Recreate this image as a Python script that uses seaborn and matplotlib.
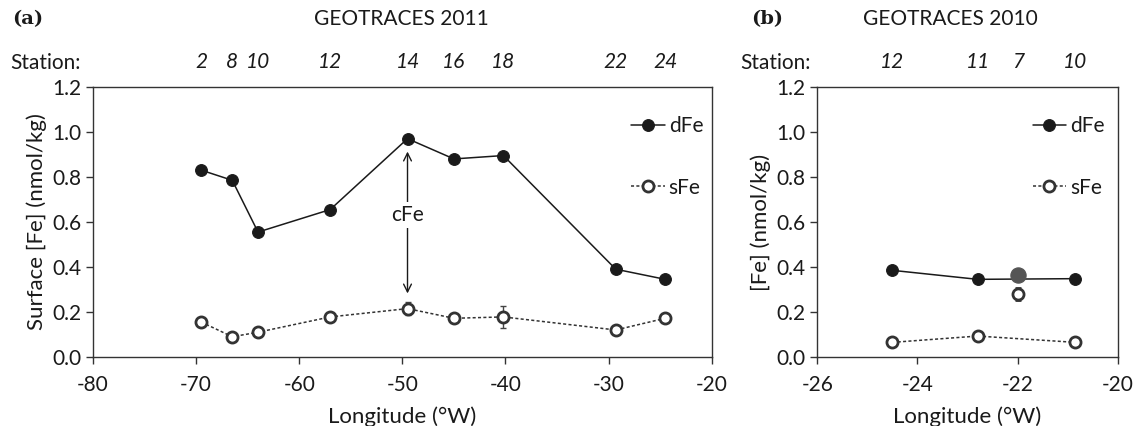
import numpy as np
import pandas as pd
import matplotlib
matplotlib.use("Agg")
import matplotlib.pyplot as plt
import seaborn as sns

sns.set_style("ticks")
plt.rcParams['font.family'] = ['Lato', 'DejaVu Sans']

# GEOTRACES 2011 section
lon_2011 = [-69.5, -66.5, -64.0, -57.0, -49.5, -45.0, -40.2, -29.3, -24.5]
stations_2011 = ["2", "8", "10", "12", "14", "16", "18", "22", "24"]
dfe_2011 = [0.83, 0.785, 0.555, 0.655, 0.97, 0.88, 0.895, 0.39, 0.345]
sfe_2011 = [0.155, 0.09, 0.11, 0.178, 0.215, 0.172, 0.178, 0.12, 0.172]
sfe_err_2011 = [0.02, 0.01, 0.01, 0.01, 0.03, 0.01, 0.05, 0.01, 0.01]

# GEOTRACES 2010 section
lon_2010 = [-24.5, -22.8, -20.85]
stations_2010 = ["12", "11", "10"]
dfe_2010 = [0.385, 0.345, 0.348]
sfe_2010 = [0.065, 0.093, 0.065]
# station 7, drawn apart from the connected series
lon_st7 = [-22.0]
station_st7 = ["7"]
dfe_st7 = [0.365]
sfe_st7 = [0.28]
sfe_err_st7 = [0.025]

fig = plt.figure(figsize=(11.35, 4.26), dpi=100)
ax_a = fig.add_axes([0.082, 0.162, 0.545, 0.634])
ax_b = fig.add_axes([0.720, 0.162, 0.265, 0.634])

FS = 15
dark = "#1a1a1a"


def draw_series(ax, lon, dfe, sfe, sfe_err=None):
    d = pd.DataFrame({"lon": lon, "dFe": dfe, "sFe": sfe})
    sns.lineplot(data=d, x="lon", y="dFe", ax=ax, color=dark, lw=1.1,
                 marker="o", markersize=8.5, markerfacecolor=dark,
                 markeredgecolor=dark, label="dFe", sort=False)
    if sfe_err is not None:
        ax.errorbar(lon, sfe, yerr=sfe_err, fmt="none", ecolor="#444444",
                    elinewidth=1.0, capsize=2.5, zorder=2)
    sns.lineplot(data=d, x="lon", y="sFe", ax=ax, color="#333333", lw=1.1,
                 linestyle=(0, (2, 1.5)), marker="o", markersize=8,
                 markerfacecolor="white", markeredgecolor="#333333",
                 markeredgewidth=2.0, label="sFe", sort=False)


def style_axes(ax, xlim, xticks, ylabel, leg_x):
    ax.set_xlim(*xlim)
    ax.set_ylim(0, 1.2)
    ax.set_xticks(xticks)
    ax.set_yticks(np.arange(0, 1.21, 0.2))
    ax.set_yticklabels([f"{v:.1f}" for v in np.arange(0, 1.21, 0.2)])
    ax.set_xticklabels([f"{int(v)}" for v in xticks])
    ax.tick_params(labelsize=FS, length=5, width=1, color="#333333",
                   labelcolor=dark)
    ax.tick_params(axis="x", pad=8)
    for s in ax.spines.values():
        s.set_color("#333333")
        s.set_linewidth(1.0)
    ax.set_xlabel("Longitude (°W)", fontsize=FS + 1, color=dark, labelpad=8)
    ax.set_ylabel(ylabel, fontsize=FS + 1, color=dark, labelpad=4)
    leg = ax.legend(loc="upper right", frameon=False, fontsize=FS,
                    labelspacing=2.0, handlelength=1.6, handletextpad=0.2,
                    borderaxespad=0.6, bbox_to_anchor=(leg_x, 0.97))
    for t in leg.get_texts():
        t.set_color(dark)


def station_row(ax, lon, labels):
    for x, s in zip(lon, labels):
        ax.text(x, 1.093, s, transform=ax.get_xaxis_transform(),
                ha="center", va="center", fontsize=FS, style="italic",
                color=dark)


# panel (a)
draw_series(ax_a, lon_2011, dfe_2011, sfe_2011, sfe_err_2011)
style_axes(ax_a, (-80, -20), np.arange(-80, -19, 10),
           "Surface [Fe] (nmol/kg)", 1.02)
station_row(ax_a, lon_2011, stations_2011)
ax_a.annotate("", xy=(-49.5, 0.925), xytext=(-49.5, 0.63),
              arrowprops=dict(arrowstyle="->", color=dark, lw=1.0,
                              mutation_scale=14))
ax_a.annotate("", xy=(-49.5, 0.27), xytext=(-49.5, 0.63),
              arrowprops=dict(arrowstyle="->", color=dark, lw=1.0,
                              mutation_scale=14))
ax_a.text(-49.5, 0.63, "cFe", ha="center", va="center", fontsize=FS,
          color=dark, bbox=dict(facecolor="white", edgecolor="none", pad=2))

# panel (b)
draw_series(ax_b, lon_2010, dfe_2010, sfe_2010)
sns.scatterplot(x=lon_st7, y=dfe_st7, ax=ax_b, color="#555555", s=120,
                edgecolor="#555555", zorder=4, legend=False)
ax_b.errorbar(lon_st7, sfe_st7, yerr=sfe_err_st7, fmt="o", color="#333333",
              markersize=8, markerfacecolor="white", markeredgewidth=2.0,
              elinewidth=1.0, capsize=2.5, zorder=4)
style_axes(ax_b, (-26, -20), np.arange(-26, -19, 2), "[Fe] (nmol/kg)", 1.025)
station_row(ax_b, lon_2010 + lon_st7, stations_2010 + station_st7)

# headers
fig.text(0.011, 0.955, "(a)", fontsize=14, fontweight="bold",
         family="DejaVu Serif", va="center", color=dark)
fig.text(0.354, 0.955, "GEOTRACES 2011", fontsize=FS, va="center",
         ha="center", color=dark)
fig.text(0.009, 0.853, "Station:", fontsize=FS, va="center", color=dark)
fig.text(0.662, 0.955, "(b)", fontsize=14, fontweight="bold",
         family="DejaVu Serif", va="center", color=dark)
fig.text(0.837, 0.955, "GEOTRACES 2010", fontsize=FS, va="center",
         ha="center", color=dark)
fig.text(0.652, 0.853, "Station:", fontsize=FS, va="center", color=dark)

fig.savefig("out.png", dpi=100)
